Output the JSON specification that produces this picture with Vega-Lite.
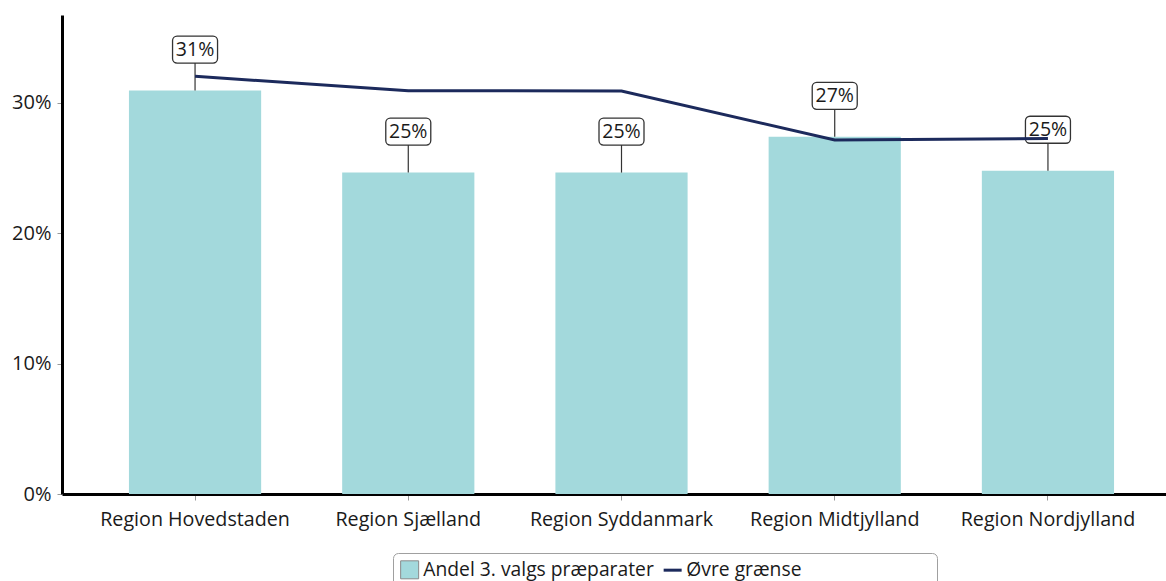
{
  "$schema": "https://vega.github.io/schema/vega-lite/v6.json",
  "autosize": "none",
  "padding": {"left": 62, "top": 15, "right": 0, "bottom": 87},
  "width": 1119,
  "height": 479,
  "background": "white",
  "data": {
    "values": [
      {"region": "Region Hovedstaden", "andel": 0.3095, "graense": 0.3205},
      {"region": "Region Sjælland", "andel": 0.2466, "graense": 0.3094},
      {"region": "Region Syddanmark", "andel": 0.2466, "graense": 0.3092},
      {"region": "Region Midtjylland", "andel": 0.2740, "graense": 0.2716},
      {"region": "Region Nordjylland", "andel": 0.2480, "graense": 0.2728}
    ]
  },
  "encoding": {
    "x": {
      "field": "region",
      "type": "nominal",
      "sort": null,
      "title": null,
      "scale": {"paddingInner": 0.38, "paddingOuter": 0.314},
      "axis": {
        "labelAngle": 0,
        "labelFont": "Open Sans",
        "labelFontSize": 19.7,
        "labelColor": "#1a1a1a",
        "labelPadding": 9,
        "labelLimit": 320,
        "domainColor": "#000000",
        "domainWidth": 3,
        "tickColor": "#999999",
        "tickSize": 6,
        "tickWidth": 1,
        "grid": false
      }
    }
  },
  "layer": [
    {
      "mark": {"type": "bar"},
      "encoding": {
        "y": {
          "field": "andel",
          "type": "quantitative",
          "title": null,
          "scale": {"domain": [0, 0.3675], "nice": false},
          "axis": {
            "values": [0, 0.1, 0.2, 0.3],
            "format": ".0%",
            "labelFont": "Open Sans",
            "labelFontSize": 20,
            "labelColor": "#1a1a1a",
            "labelPadding": 6,
            "domainColor": "#000000",
            "domainWidth": 3,
            "tickColor": "#999999",
            "tickSize": 5,
            "tickWidth": 1,
            "grid": false
          }
        },
        "color": {
          "datum": "Andel 3. valgs præparater",
          "type": "nominal",
          "scale": {
            "domain": ["Andel 3. valgs præparater", "Øvre grænse"],
            "range": ["#a3d9dc", "#1c2a5c"]
          },
          "legend": {
            "title": " ",
            "titleOrient": "right",
            "titlePadding": 129,
            "titleFontSize": 19.3,
            "orient": "none",
            "legendX": 331,
            "legendY": 538,
            "direction": "horizontal",
            "gridAlign": "all",
            "columnPadding": 3,
            "labelFont": "Open Sans",
            "labelFontSize": 19.3,
            "labelColor": "#1a1a1a",
            "labelOffset": 4,
            "labelLimit": 400,
            "symbolSize": 324,
            "symbolType": "square",
            "padding": 7,
            "cornerRadius": 5,
            "strokeColor": "#a0a0a0",
            "fillColor": "#ffffff",
            "encode": {
              "symbols": {
                "update": {
                  "shape": {"signal": "datum.value === 'Øvre grænse' ? 'stroke' : 'square'"},
                  "fill": {"signal": "datum.value === 'Øvre grænse' ? 'transparent' : '#a3d9dc'"},
                  "stroke": {"signal": "datum.value === 'Øvre grænse' ? '#1c2a5c' : '#8a8a8a'"},
                  "strokeWidth": {"signal": "datum.value === 'Øvre grænse' ? 3 : 1"},
                  "opacity": {"value": 1}
                }
              }
            }
          }
        }
      }
    },
    {
      "mark": {"type": "rule", "color": "#333333", "strokeWidth": 1.2, "y2Offset": -28},
      "encoding": {
        "y": {"field": "andel", "type": "quantitative"},
        "y2": {"field": "andel"}
      }
    },
    {
      "mark": {
        "type": "point",
        "shape": "M-0.8,-0.6H0.8A0.2,0.2 0 0 1 1,-0.4V0.4A0.2,0.2 0 0 1 0.8,0.6H-0.8A0.2,0.2 0 0 1 -1,0.4V-0.4A0.2,0.2 0 0 1 -0.8,-0.6Z",
        "size": 2025,
        "filled": true,
        "fill": "#ffffff",
        "fillOpacity": 1,
        "stroke": "#333333",
        "strokeWidth": 1.3,
        "opacity": 1,
        "yOffset": -41
      },
      "encoding": {
        "y": {"field": "andel", "type": "quantitative"}
      }
    },
    {
      "mark": {
        "type": "text",
        "font": "Open Sans",
        "fontSize": 19.5,
        "color": "#1a1a1a",
        "baseline": "middle",
        "align": "center",
        "yOffset": -41
      },
      "encoding": {
        "y": {"field": "andel", "type": "quantitative"},
        "text": {"field": "andel", "type": "quantitative", "format": ".0%"}
      }
    },
    {
      "mark": {"type": "line", "color": "#1c2a5c", "strokeWidth": 3},
      "encoding": {
        "y": {"field": "graense", "type": "quantitative"}
      }
    }
  ],
  "config": {
    "view": {"stroke": null}
  }
}
